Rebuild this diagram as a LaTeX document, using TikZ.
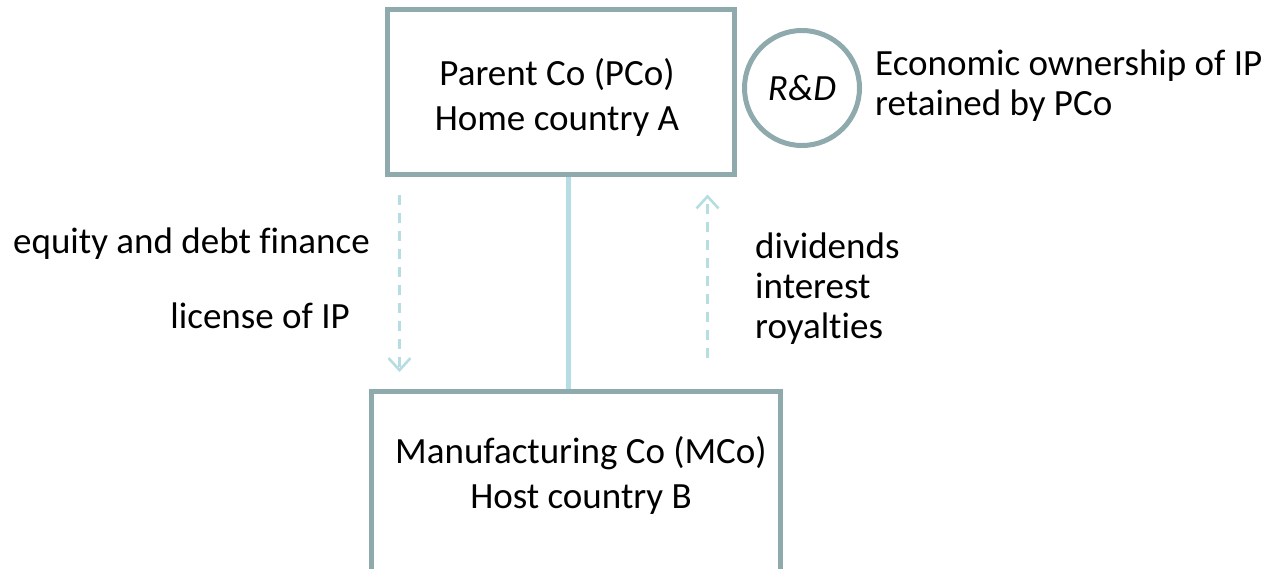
\documentclass[tikz,border=0pt]{standalone}
\usepackage{fontspec}
\setmainfont{Carlito}[Ligatures=CommonOff]
\usetikzlibrary{arrows.meta}
\definecolor{frame}{HTML}{8FAAAD}
\definecolor{tie}{HTML}{B5DDE2}
\definecolor{ink}{HTML}{000000}
\tikzset{
  entity/.style={draw=frame, line width=5pt, fill=white, inner sep=0pt},
  rnd/.style={circle, draw=frame, line width=5pt, minimum size=115pt, inner sep=0pt, font=\fontsize{37}{45}\selectfont\itshape},
  link/.style={draw=tie, line width=5pt},
  flow/.style={draw=tie, line width=2.6pt, dash pattern=on 10pt off 8pt,
    -{Straight Barb[length=12pt,width=22pt,line width=2.6pt]}},
  lab/.style={text=ink, inner sep=0pt},
  coname/.style={lab, align=center},
  list/.style={lab, align=left, font=\fontsize{37}{40}\selectfont},
}
\begin{document}
\begin{tikzpicture}[x=1pt,y=-1pt,font=\fontsize{37}{45}\selectfont]
  \useasboundingbox (0,0) rectangle (1268,568);

  % the two companies
  \node[entity, minimum width=347pt, minimum height=165pt] (pco) at (561,92) {};
  \node[coname, anchor=base] (pconame) at (557,130) {Parent Co (PCo)\\Home country A};
  \node[entity, minimum width=409pt, minimum height=230pt, anchor=north] (mco) at (576,388.5) {};
  \node[coname, anchor=base] (mconame) at (581,508) {Manufacturing Co (MCo)\\Host country B};
  \node[rnd, anchor=west] (rd) at ([xshift=5pt,yshift=4pt]pco.east) {R\&D};

  % ownership link
  \coordinate (tie) at ([xshift=7pt]pco.south);
  \draw[link] (tie) -- (tie |- mco.north);

  % flows between PCo and MCo
  \coordinate (dnA) at ([xshift=14.5pt,yshift=-17.5pt]pco.south west);
  \coordinate (dnB) at (dnA |- mco.north);
  \draw[flow] (dnA) -- ([yshift=16.5pt]dnB);
  \coordinate (upA) at ([xshift=-29.5pt,yshift=-17.5pt]pco.south east);
  \coordinate (upB) at (upA |- mco.north);
  \draw[flow] ([yshift=30.5pt]upB) -- (upA);

  \node[lab, anchor=base east] (fin) at (370,253) {equity and debt finance};
  \node[lab, anchor=base east] (lic) at (350,328) {license of IP};
  \node[list, anchor=base west] (pay) at (755,338) {dividends\\interest\\royalties};
  \node[list, anchor=base west] (own) at (875,115) {Economic ownership of IP\\retained by PCo};
\end{tikzpicture}
\end{document}
